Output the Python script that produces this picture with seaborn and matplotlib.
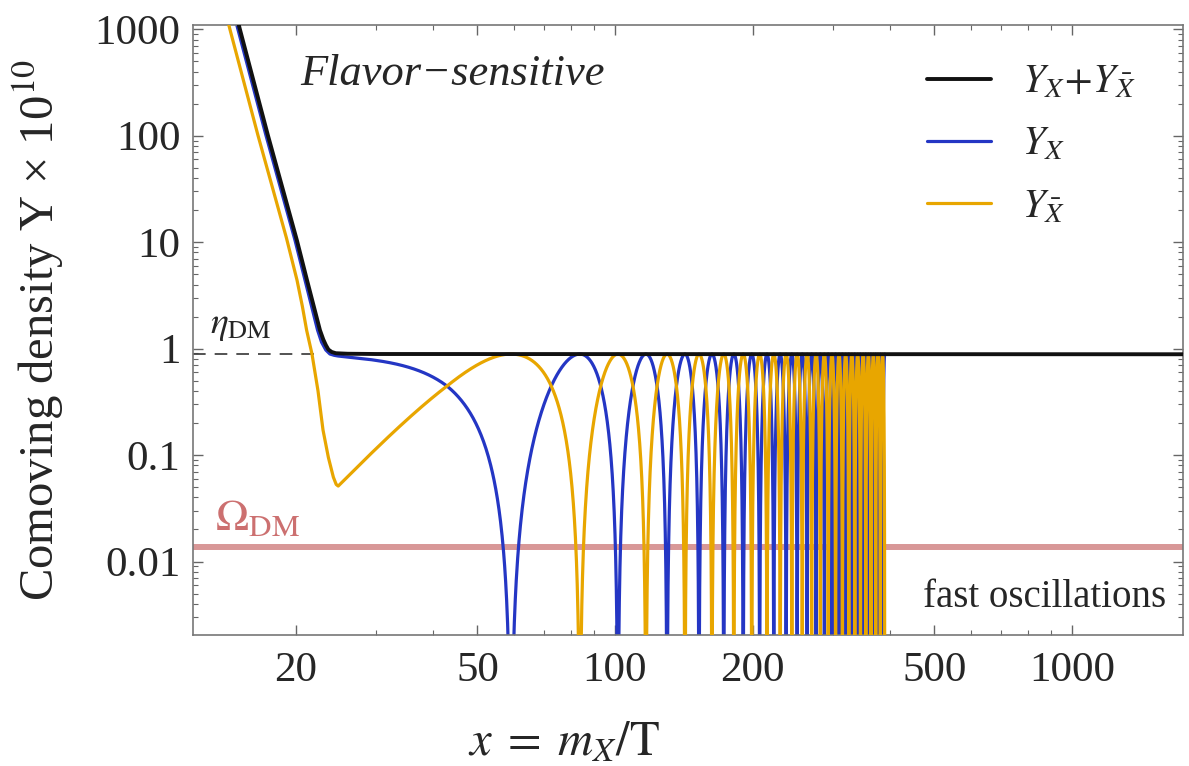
import numpy as np
import pandas as pd
import seaborn as sns
import matplotlib.pyplot as plt
from matplotlib.lines import Line2D
from matplotlib.ticker import LogLocator, NullFormatter

# black: Y_X + Y_Xbar
x_tot = [14.55, 15.11, 17.40, 20.14, 21.19, 22.62, 23.00, 23.30, 23.60, 24.00, 24.50, 26.0, 30.0, 1750.0]
y_tot = [1900, 1000, 101, 10.4, 4.40, 1.49, 1.22, 1.08, 0.98, 0.93, 0.905, 0.895, 0.89, 0.885]

# Y_X (blue) and Y_Xbar (gold) before the oscillation phase takes over
x_blue0 = [14.40, 14.96, 17.23, 19.95, 20.98, 22.35, 22.80, 23.30, 23.78, 24.30, 24.80]
y_blue0 = [1900, 1000, 101, 10.4, 4.40, 1.49, 1.15, 0.97, 0.89, 0.865, 0.846]
x_gold0 = [13.83, 14.37, 16.55, 19.10, 19.70, 20.15, 20.70, 21.15, 21.73,
           22.40, 22.97, 23.60, 24.20, 24.55, 24.80]
y_gold0 = [1900, 1000, 101, 11.0, 6.5, 4.40, 2.50, 1.49, 0.89,
           0.40, 0.172, 0.095, 0.062, 0.053, 0.051]

# oscillation phase: x where the phase reaches q quarter-turns (pi/2 each)
# odd q -> Y_X vanishes, even q -> Y_Xbar vanishes
x_nodes = [24.8, 42.9,
           59.2, 83.8, 101.5, 116.9, 130.0, 142.3, 152.7, 163.0, 173.0, 182.0,
           190.8, 199.2, 207.3, 215.1, 222.6, 229.9, 236.9, 243.8, 250.4, 256.9,
           263.3, 269.4, 275.5, 281.4, 287.2, 292.8, 298.4, 303.9, 309.2, 314.5,
           319.7, 324.8, 329.8, 334.8, 339.7, 344.5, 349.2, 353.9, 358.5, 363.1,
           367.6, 372.0, 376.4, 380.8, 385.1, 389.3]
q_nodes = [0.153, 0.5] + list(range(1, 47))

eta_dm = 0.89
eta_x_end = 22.4
omega_dm = 0.0137

# build curves
xn = np.array(x_nodes)
thn = np.array(q_nodes) * np.pi / 2
theta = np.linspace(thn[0], thn[-1], 200 * 46)
theta = np.union1d(theta, thn)
xo = np.sqrt(np.interp(theta, thn, xn ** 2))
yt = 10 ** np.interp(np.log10(xo), np.log10(x_tot), np.log10(y_tot))
floor = 1e-6
blue = pd.DataFrame({
    "x": np.concatenate([x_blue0[:-1], xo]),
    "y": np.maximum(np.concatenate([y_blue0[:-1], yt * np.cos(theta) ** 2]), floor),
})
gold = pd.DataFrame({
    "x": np.concatenate([x_gold0[:-1], xo]),
    "y": np.maximum(np.concatenate([y_gold0[:-1], yt * np.sin(theta) ** 2]), floor),
})
tot = pd.DataFrame({"x": x_tot, "y": y_tot})

c_black = "#111111"
c_blue = "#2436c4"
c_gold = "#e8a600"
c_omega = "#d48c8c"

sns.set_theme(style="ticks")
plt.rcParams["font.family"] = ["Liberation Serif", "DejaVu Serif"]
plt.rcParams["mathtext.fontset"] = "stix"

fig = plt.figure(figsize=(11.89, 7.66), dpi=100)
ax = fig.add_axes([0.1623, 0.171, 0.8327, 0.796])
ax.set_xscale("log")
ax.set_yscale("log")
xmin, xmax = 11.93, 1750
ax.set_xlim(xmin, xmax)
ax.set_ylim(0.00204, 1090)

ax.axhline(omega_dm, color=c_omega, lw=4.3, alpha=0.9, zorder=1)
ax.hlines(eta_dm, xmin, eta_x_end, colors="#444444", lw=1.3, linestyles=(0, (7, 5)), zorder=1)

sns.lineplot(data=blue, x="x", y="y", ax=ax, color=c_blue, lw=2.3,
             estimator=None, sort=False, errorbar=None, zorder=2)
sns.lineplot(data=gold, x="x", y="y", ax=ax, color=c_gold, lw=2.3,
             estimator=None, sort=False, errorbar=None, zorder=3)
sns.lineplot(data=tot, x="x", y="y", ax=ax, color=c_black, lw=2.8,
             estimator=None, sort=False, errorbar=None, zorder=4)

# ticks
ax.set_xticks([20, 50, 100, 200, 500, 1000], labels=["20", "50", "100", "200", "500", "1000"])
ax.xaxis.set_minor_locator(LogLocator(base=10, subs=np.arange(1, 10)))
ax.xaxis.set_minor_formatter(NullFormatter())
ax.set_yticks([0.01, 0.1, 1, 10, 100, 1000], labels=["0.01", "0.1", "1", "10", "100", "1000"])
ax.yaxis.set_minor_locator(LogLocator(base=10, subs=np.arange(2, 10)))
ax.yaxis.set_minor_formatter(NullFormatter())
ax.tick_params(which="both", direction="in", top=True, right=True, color="#666666")
ax.tick_params(which="major", length=7, width=1.0, labelsize=31, pad=9)
ax.tick_params(which="minor", length=3.5, width=0.8)
ax.tick_params(axis="x", which="major", pad=12)
for s in ax.spines.values():
    s.set_color("#777777")
    s.set_linewidth(1.2)

ax.set_xlabel(r"$x\;=\;m_X/\mathrm{T}$", fontsize=35)
ax.xaxis.set_label_coords(0.375, -0.14)
ax.set_ylabel(r"Comoving density Y × 10$^{10}$", fontsize=35)
ax.yaxis.set_label_coords(-0.128, 0.5)

ax.text(0.108, 0.902, "Flavor\u2212sensitive", transform=ax.transAxes, fontsize=32,
        style="italic", va="baseline", ha="left")
ax.text(0.017, 0.495, r"$\eta_{\rm DM}$", transform=ax.transAxes, fontsize=27,
        va="baseline", ha="left")
ax.text(0.022, 0.172, r"$\Omega_{\rm DM}$", transform=ax.transAxes, fontsize=32,
        color="#cc7070", va="baseline", ha="left")
ax.text(0.983, 0.046, "fast oscillations", transform=ax.transAxes, fontsize=28,
        va="baseline", ha="right")

handles = [Line2D([], [], color=c_black, lw=2.8),
           Line2D([], [], color=c_blue, lw=2.3),
           Line2D([], [], color=c_gold, lw=2.3)]
labels = [r"$Y_X\!+\!Y_{\bar{X}}$", r"$Y_X$", r"$Y_{\bar{X}}$"]
ax.legend(handles, labels, loc="upper right", bbox_to_anchor=(0.977, 0.975),
          frameon=False, fontsize=29, handlelength=1.6, handletextpad=0.77,
          labelspacing=0.62, borderaxespad=0.2)

fig.savefig("out.png", dpi=100)
